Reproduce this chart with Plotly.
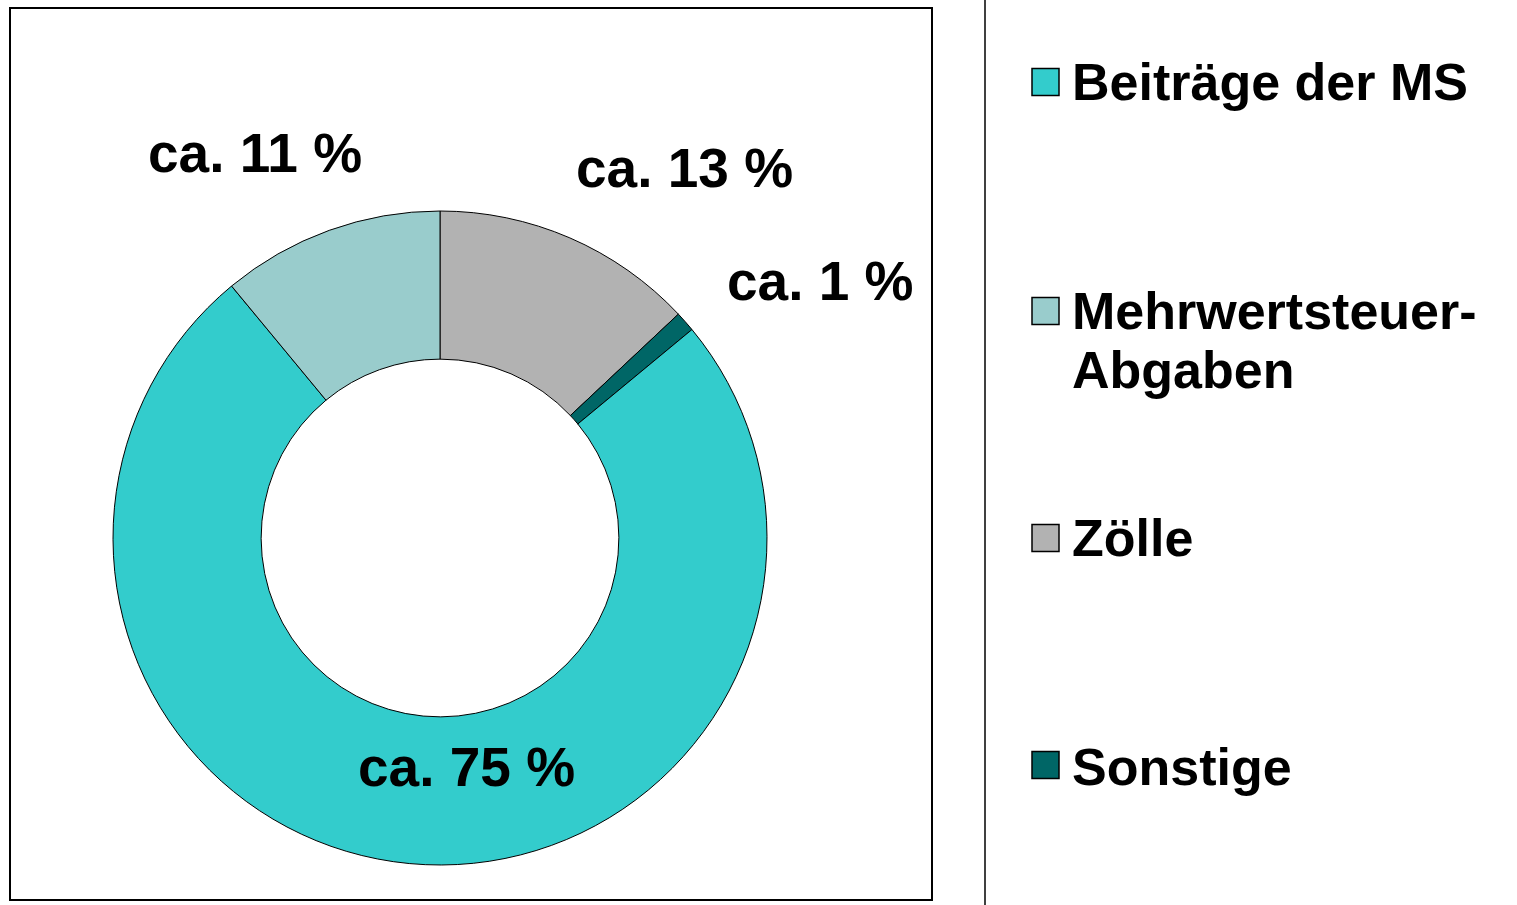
import plotly.graph_objects as go

# Data
categories = ["Zölle", "Sonstige", "Beiträge der MS", "Mehrwertsteuer-Abgaben"]
values = [13, 1, 75, 11]
colors = ["#B2B2B2", "#006666", "#33CCCC", "#99CCCC"]

legend_labels = [["Beiträge der MS"], ["Mehrwertsteuer-", "Abgaben"], ["Zölle"], ["Sonstige"]]
legend_colors = ["#33CCCC", "#99CCCC", "#B2B2B2", "#006666"]

W, H = 1517, 905
FONT = "Liberation Sans, Arial, sans-serif"

def px(x):
    return x / W

def py(y):
    return 1 - y / H

fig = go.Figure()
fig.add_trace(go.Pie(
    labels=categories,
    values=values,
    marker=dict(colors=colors, line=dict(color="black", width=1)),
    hole=0.547,
    sort=False,
    direction="clockwise",
    rotation=0,
    textinfo="none",
    hoverinfo="label+percent",
    showlegend=False,
    domain=dict(x=[px(113), px(767)], y=[py(865), py(211)]),
))

# Slice value labels (positions in pixels)
label_pos = {
    "Zölle": (684, 168),
    "Sonstige": (820, 281),
    "Beiträge der MS": (466, 767),
    "Mehrwertsteuer-Abgaben": (255, 153),
}
annotations = []
for cat, v in zip(categories, values):
    x, y = label_pos[cat]
    annotations.append(dict(
        x=px(x), y=py(y), xref="paper", yref="paper",
        text=f"<b>ca. {v} %</b>", showarrow=False,
        xanchor="center", yanchor="middle",
        font=dict(family=FONT, size=55, color="black"),
    ))

# Manual legend
legend_y = [82, 311, 538, 765]
text_y = [82, 311, 538, 767]
line_gap = 59
shapes = []
for lines, col, sy, ty in zip(legend_labels, legend_colors, legend_y, text_y):
    shapes.append(dict(
        type="rect", xref="paper", yref="paper",
        x0=px(1032), x1=px(1059), y0=py(sy + 13.5), y1=py(sy - 13.5),
        fillcolor=col, line=dict(color="black", width=1.5),
    ))
    for i, line in enumerate(lines):
        annotations.append(dict(
            x=px(1070), y=py(ty + i * line_gap), xref="paper", yref="paper",
            text=f"<b>{line}</b>", showarrow=False,
            xanchor="left", yanchor="middle", align="left",
            font=dict(family=FONT, size=52, color="black"),
        ))

# Plot frame and separator
shapes.append(dict(
    type="rect", xref="paper", yref="paper",
    x0=px(10), x1=px(932), y0=py(900), y1=py(8),
    line=dict(color="black", width=2), fillcolor="rgba(0,0,0,0)",
))
shapes.append(dict(
    type="line", xref="paper", yref="paper",
    x0=px(985), x1=px(985), y0=0, y1=1,
    line=dict(color="black", width=1.5),
))

fig.update_layout(
    width=W, height=H,
    margin=dict(l=0, r=0, t=0, b=0),
    paper_bgcolor="white",
    plot_bgcolor="white",
    shapes=shapes,
    annotations=annotations,
    showlegend=False,
)

fig.write_html("out.html")
